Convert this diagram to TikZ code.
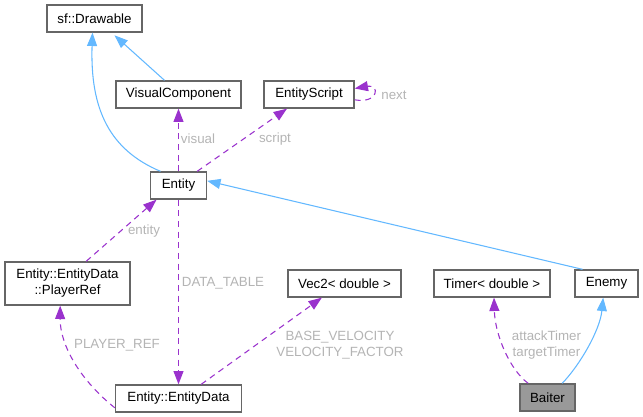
\documentclass[tikz,border=0pt]{standalone}
\usepackage{fontspec}
\setmainfont{Liberation Sans}
\usetikzlibrary{arrows.meta}

\definecolor{inhblue}{HTML}{63B8FF}
\definecolor{usepurple}{HTML}{9A32CD}
\definecolor{boxgray}{HTML}{666666}
\definecolor{lblgray}{HTML}{B4B4B4}

\tikzset{
  cls/.style={draw=boxgray,line width=1pt,fill=white,minimum height=20.25pt,inner sep=2pt},
  inherit/.style={draw=inhblue,line width=0.8pt,-{Triangle[length=10pt,width=7.5pt]},inhblue},
  uses/.style={draw=usepurple,line width=0.8pt,dash pattern=on 4.5pt off 3.5pt,-{Triangle[length=10pt,width=7.5pt]},usepurple},
  lbl/.style={text=lblgray,align=center,inner sep=0pt}
}

\begin{document}
\begin{tikzpicture}[x=0.75pt,y=-0.75pt,font=\fontsize{10}{12}\selectfont]
  \useasboundingbox (0,0) rectangle (643,417);

  \node[cls,minimum width=71.25pt] (drw) at (94.5,18.5) {sf::Drawable};
  \node[cls,minimum width=93.75pt] (vis) at (178.5,94.5) {VisualComponent};
  \node[cls,minimum width=67.5pt] (scr) at (309,94.5) {EntityScript};
  \node[cls,minimum width=42pt] (ent) at (178.5,185.5) {Entity};
  \node[cls,minimum width=93.75pt,minimum height=32.25pt,align=center] (pref) at (67.5,283.5)
    {Entity::EntityData\\::PlayerRef};
  \node[cls,minimum width=84.75pt] (vec) at (344.5,283.5) {Vec2< double >};
  \node[cls,minimum width=87pt] (tmr) at (492,283.5) {Timer< double >};
  \node[cls,minimum width=47.25pt] (enm) at (606.5,283.5) {Enemy};
  \node[cls,minimum width=94.5pt] (edat) at (178.5,398.5) {Entity::EntityData};
  \node[cls,minimum width=41.25pt,fill=black!40] (bai) at (547.5,397.5) {Baiter};

  % inheritance
  \draw[inherit] ([xshift=-13.5pt]ent.north) .. controls (110,150) and (90,110) .. ([xshift=-1.5pt]drw.south);
  \draw[inherit] ([xshift=-10.5pt]vis.north) -- ([xshift=15pt,yshift=-2pt]drw.south);
  \draw[inherit] ([xshift=-18pt]enm.north) -- ([yshift=3.5pt]ent.east);
  \draw[inherit] ([xshift=11pt]bai.north) .. controls (580,365) and (600,330) .. ([xshift=-2.5pt]enm.south);

  % usage
  \draw[uses] (ent.north) -- (vis.south);
  \node[lbl] (lvis) at (198,139) {visual};
  \draw[uses] ([xshift=14pt]ent.north) -- ([xshift=-16.5pt]scr.south);
  \node[lbl] (lscr) at (275,139) {script};
  \draw[uses] ([yshift=-4pt]scr.east) .. controls (379,104) and (380,84) .. ([yshift=4.5pt]scr.east);
  \node[lbl] (lnxt) at (394,95) {next};
  \draw[uses] ([xshift=14pt]pref.north) -- ([xshift=-16.5pt]ent.south);
  \node[lbl] (lent) at (144,231) {entity};
  \draw[uses] (ent.south) -- (edat.north);
  \node[lbl] (ldat) at (223,283) {DATA\_TABLE};
  \draw[uses] ([yshift=-7pt]edat.west) .. controls (80,380) and (60,345) .. ([xshift=-5.5pt]pref.south);
  \node[lbl] (lpr) at (117,345) {PLAYER\_REF};
  \draw[uses] ([xshift=17pt]edat.north) -- ([xshift=-17pt]vec.south);
  \node[lbl] (lvel) at (340,345) {BASE\_VELOCITY\\VELOCITY\_FACTOR};
  \draw[uses] ([xshift=-14.5pt]bai.north) .. controls (510,370) and (495,335) .. ([xshift=1.5pt]tmr.south);
  \node[lbl] (ltim) at (546.5,345) {attackTimer\\targetTimer};
\end{tikzpicture}
\end{document}
